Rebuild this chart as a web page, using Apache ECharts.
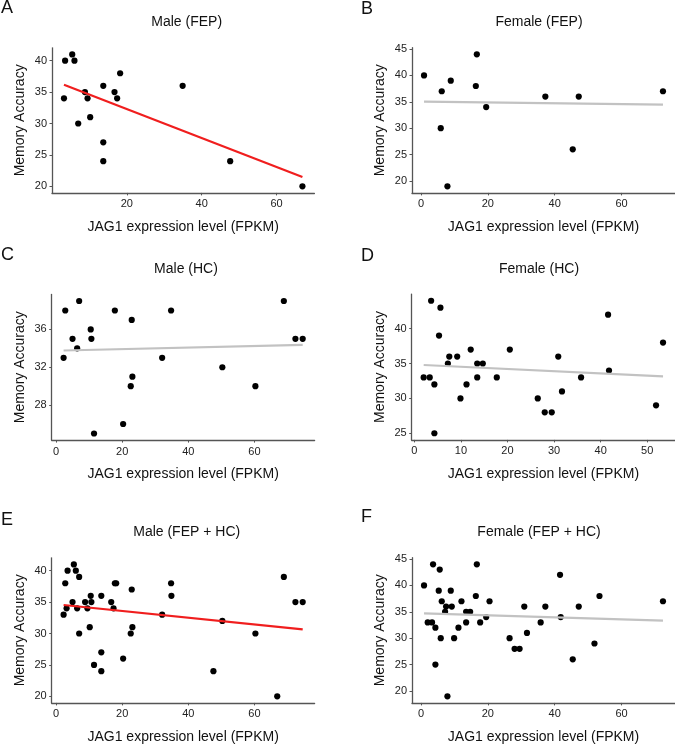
<!DOCTYPE html>
<html>
<head>
<meta charset="utf-8">
<script src="https://cdn.jsdelivr.net/npm/echarts@6/dist/echarts.min.js"></script>
<style>
  html, body { margin: 0; padding: 0; background: #fff; }
  #chart { width: 675px; height: 745px; }
</style>
</head>
<body>
<div id="chart"></div>
<script>
// ---------- data ----------
const maleFEP_x = [3.2, 3.5, 5.4, 6.0, 7.0, 8.8, 9.5, 10.2, 13.7, 13.7, 13.7, 16.7, 17.4, 18.2, 34.9, 47.6, 66.9];
const maleFEP_y = [34, 40, 41, 40, 30, 35, 34, 31, 36, 27, 24, 35, 34, 38, 36, 24, 20];

const maleHC_x = [2.3, 2.8, 5.0, 6.4, 7.0, 10.5, 10.7, 11.5, 17.8, 20.3, 22.6, 22.9, 23.1, 32.1, 34.8, 50.3, 60.3, 68.9, 72.4, 74.6];
const maleHC_y = [33, 38, 35, 34, 39, 36, 35, 25, 38, 26, 30, 37, 31, 33, 38, 32, 30, 39, 35, 35];

const femaleFEP_x = [0.9, 6.2, 5.9, 7.9, 8.9, 16.4, 16.7, 19.5, 37.2, 45.4, 47.2, 72.4];
const femaleFEP_y = [40, 37, 30, 19, 39, 38, 44, 34, 36, 26, 36, 37];

const femaleHC_x = [2.0, 3.3, 3.6, 4.3, 4.3, 5.3, 5.6, 7.2, 7.5, 9.2, 9.9, 11.2, 12.1, 13.5, 13.5, 14.7, 17.7, 20.5, 26.5, 28.0, 29.5, 30.9, 31.7, 35.8, 41.6, 41.8, 51.9, 53.4];
const femaleHC_y = [33, 33, 44, 32, 25, 39, 43, 35, 36, 36, 30, 32, 37, 35, 33, 35, 33, 37, 30, 28, 28, 36, 31, 33, 42, 34, 29, 38];

// fitted regression lines (endpoints)
const fitA_x = [3.2, 66.9],  fitA_y = [36.18, 21.49];
const fitB_x = [0.9, 72.4],  fitB_y = [35.03, 34.46];
const fitC_x = [2.3, 74.6],  fitC_y = [33.77, 34.37];
const fitD_x = [2.0, 53.4],  fitD_y = [34.79, 33.17];
const fitE_x = [2.3, 74.6],  fitE_y = [34.54, 30.66];
const fitF_x = [0.9, 72.4],  fitF_y = [34.71, 33.32];

// tick labels
const ticksX_A = [20, 40, 60];
const ticksX_0to60 = [0, 20, 40, 60];
const ticksX_D = [0, 10, 20, 30, 40, 50];
const ticksY_A = [20, 25, 30, 35, 40];
const ticksY_B = [20, 25, 30, 35, 40, 45];
const ticksY_C = [28, 32, 36];
const ticksY_D = [25, 30, 35, 40];

const titles = ['Male (FEP)', 'Female (FEP)', 'Male (HC)', 'Female (HC)', 'Male (FEP + HC)', 'Female (FEP + HC)'];
const letters = ['A', 'B', 'C', 'D', 'E', 'F'];
const xTitle = 'JAG1 expression level (FPKM)';
const yTitle = 'Memory Accuracy';

// ---------- build ----------
function zip(xs, ys) { return xs.map((x, i) => [x, ys[i]]); }

const panelData = [
  { pts: zip(maleFEP_x, maleFEP_y), fit: zip(fitA_x, fitA_y), sig: true,
    xr: [0, 70.1], yr: [18.95, 42.05], xt: ticksX_A, yt: ticksY_A },
  { pts: zip(femaleFEP_x, femaleFEP_y), fit: zip(fitB_x, fitB_y), sig: false,
    xr: [-2.7, 76.0], yr: [17.75, 45.25], xt: ticksX_0to60, yt: ticksY_B },
  { pts: zip(maleHC_x, maleHC_y), fit: zip(fitC_x, fitC_y), sig: false,
    xr: [-1.3, 78.2], yr: [24.3, 39.7], xt: ticksX_0to60, yt: ticksY_C },
  { pts: zip(femaleHC_x, femaleHC_y), fit: zip(fitD_x, fitD_y), sig: false,
    xr: [-0.57, 55.97], yr: [24.05, 44.95], xt: ticksX_D, yt: ticksY_D },
  { pts: zip(maleFEP_x.concat(maleHC_x), maleFEP_y.concat(maleHC_y)), fit: zip(fitE_x, fitE_y), sig: true,
    xr: [-1.3, 78.2], yr: [18.95, 42.05], xt: ticksX_0to60, yt: ticksY_A },
  { pts: zip(femaleFEP_x.concat(femaleHC_x), femaleFEP_y.concat(femaleHC_y)), fit: zip(fitF_x, fitF_y), sig: false,
    xr: [-2.7, 76.0], yr: [17.75, 45.25], xt: ticksX_0to60, yt: ticksY_B }
];

// layout (pixels)
const grids = [
  { left: 52,    top: 47.8,  width: 262.4, height: 145.1 },
  { left: 412,   top: 47.7,  width: 263,   height: 145.2 },
  { left: 51.7,  top: 294.4, width: 262.9, height: 145.7 },
  { left: 411.7, top: 294.1, width: 263.3, height: 145.8 },
  { left: 51.7,  top: 557.8, width: 262.9, height: 145.1 },
  { left: 412,   top: 557.7, width: 263,   height: 145.2 }
];
const titlePos = [[186.7, 21.7], [539, 22], [186, 269], [539, 269], [186.7, 531.7], [539, 532]];
const letterPos = [[1, 8.5], [361, 9.5], [1, 255], [361, 256], [1, 520], [361, 517]];

const FONT = '"Liberation Sans", Arial, Helvetica, sans-serif';
const axisCol = '#555';
const textCol = '#222';

const option = {
  animation: false,
  backgroundColor: '#fff',
  grid: grids.map(g => Object.assign({ containLabel: false }, g)),
  xAxis: panelData.map((p, i) => ({
    type: 'value', gridIndex: i, min: p.xr[0], max: p.xr[1],
    name: xTitle, nameLocation: 'middle', nameGap: 27,
    nameTextStyle: { fontFamily: FONT, fontSize: 14, color: '#111' },
    axisLine: { show: true, onZero: false, lineStyle: { color: axisCol, width: 1.3 } },
    axisTick: { show: true, length: 2.5, customValues: p.xt, lineStyle: { color: axisCol, width: 1 } },
    axisLabel: { customValues: p.xt, margin: 6, fontFamily: FONT, fontSize: 11, color: textCol },
    splitLine: { show: false }
  })),
  yAxis: panelData.map((p, i) => ({
    type: 'value', gridIndex: i, min: p.yr[0], max: p.yr[1],
    name: yTitle, nameLocation: 'middle', nameGap: 25, nameRotate: 90,
    nameTextStyle: { fontFamily: FONT, fontSize: 14, color: '#111' },
    axisLine: { show: true, onZero: false, lineStyle: { color: axisCol, width: 1.3 } },
    axisTick: { show: true, length: 2.5, customValues: p.yt, lineStyle: { color: axisCol, width: 1 } },
    axisLabel: { customValues: p.yt, margin: 5, fontFamily: FONT, fontSize: 11, color: textCol },
    splitLine: { show: false }
  })),
  series: [],
  graphic: []
};

panelData.forEach((p, i) => {
  option.series.push({
    type: 'scatter', xAxisIndex: i, yAxisIndex: i, data: p.pts,
    symbol: 'circle', symbolSize: 6.2, itemStyle: { color: '#000', opacity: 1 }, z: 2
  });
  option.series.push({
    type: 'line', xAxisIndex: i, yAxisIndex: i, data: p.fit,
    showSymbol: false, symbol: 'none',
    lineStyle: { color: p.sig ? '#f01e1e' : '#c2c2c2', width: 2.2 }, z: 3
  });
  option.graphic.push({
    type: 'text', x: titlePos[i][0], y: titlePos[i][1],
    style: { text: titles[i], font: '14px ' + FONT, fill: '#111', textAlign: 'center', textVerticalAlign: 'middle' }
  });
  option.graphic.push({
    type: 'text', x: letterPos[i][0], y: letterPos[i][1],
    style: { text: letters[i], font: '18px ' + FONT, fill: '#111', textAlign: 'left', textVerticalAlign: 'middle' }
  });
});

const chart = echarts.init(document.getElementById('chart'), null, { renderer: 'canvas' });
chart.setOption(option);
</script>
</body>
</html>
